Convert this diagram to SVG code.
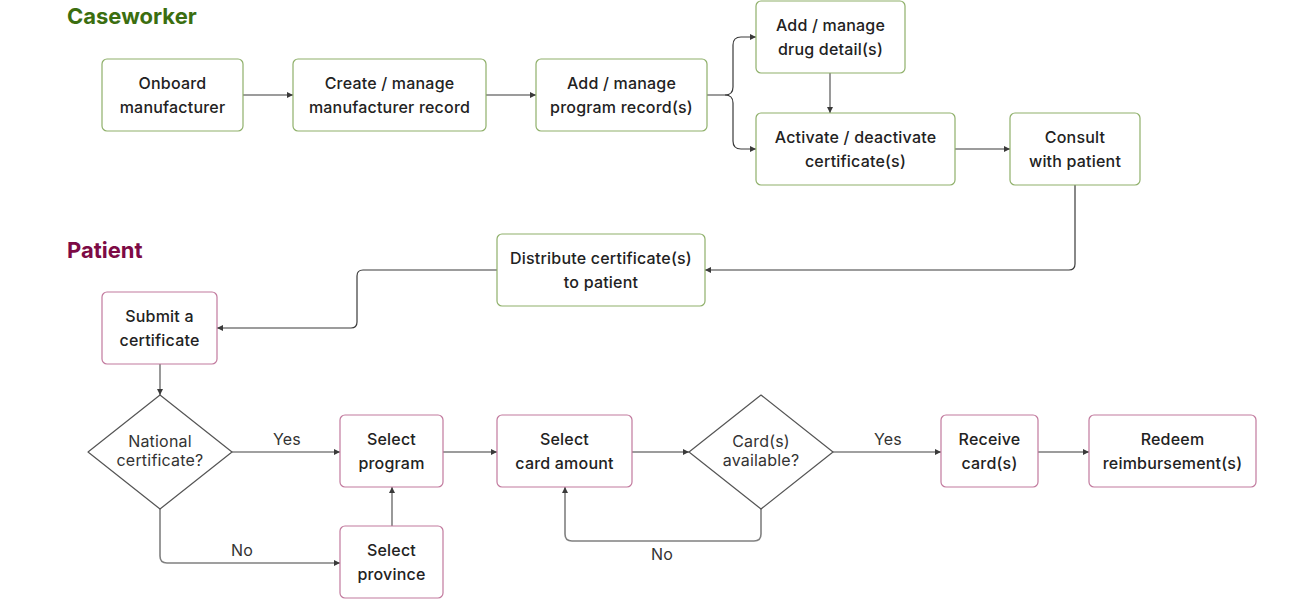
<svg xmlns="http://www.w3.org/2000/svg" width="1310" height="600" viewBox="0 0 1310 600">
<defs>
<style>
.t{font-family:Inter,"Noto Sans","Liberation Sans",sans-serif;font-size:16px;fill:#222;text-anchor:middle;font-weight:500;letter-spacing:0.2px}
.h{font-family:Inter,"Noto Sans","Liberation Sans",sans-serif;font-size:22px;font-weight:700}
.g{fill:#fff;stroke:#8fb06a;stroke-width:1.2}
.p{fill:#fff;stroke:#c27a9e;stroke-width:1.2}
.d{fill:#fff;stroke:#555;stroke-width:1.2}
.c{fill:none;stroke:#3a3a3a;stroke-width:1.2}
.c2{fill:none;stroke:#808080;stroke-width:1.6}
.l{font-family:Inter,"Noto Sans","Liberation Sans",sans-serif;font-size:16px;fill:#333;text-anchor:middle;letter-spacing:0.2px}
</style>
<marker id="a" viewBox="0 0 10 10" refX="10" refY="5" markerWidth="6" markerHeight="6" markerUnits="userSpaceOnUse" orient="auto"><path d="M0,0L10,5L0,10z" fill="#3a3a3a"/></marker>
</defs>
<text class="h" x="67" y="24" fill="#3b6e10">Caseworker</text>
<text class="h" x="67" y="258" fill="#7d0a45">Patient</text>
<g id="connectors">
<path class="c" d="M243,95H293" marker-end="url(#a)"/>
<path class="c" d="M486,95H536" marker-end="url(#a)"/>
<path class="c" d="M707,95H725Q733,95 733,87V45Q733,37 741,37H756" marker-end="url(#a)"/>
<path class="c" d="M725,95Q733,95 733,103V141Q733,149 741,149H756" marker-end="url(#a)"/>
<path class="c2" d="M830,73V113" marker-end="url(#a)"/>
<path class="c" d="M955,149H1010" marker-end="url(#a)"/>
<path class="c" d="M1075,185V264Q1075,270 1069,270H705" marker-end="url(#a)"/>
<path class="c" d="M497,270H363Q357,270 357,276V322Q357,328 351,328H217" marker-end="url(#a)"/>
<path class="c2" d="M160,364V395" marker-end="url(#a)"/>
<path class="c2" d="M232,452H340" marker-end="url(#a)"/>
<path class="c2" d="M160,509V556Q160,563 167,563H340" marker-end="url(#a)"/>
<path class="c2" d="M392,526V487" marker-end="url(#a)"/>
<path class="c" d="M443,452H497" marker-end="url(#a)"/>
<path class="c" d="M632,452H689" marker-end="url(#a)"/>
<path class="c2" d="M833,452H941" marker-end="url(#a)"/>
<path class="c2" d="M761,509V534Q761,541 754,541H572Q565,541 565,534V487" marker-end="url(#a)"/>
<path class="c" d="M1038,452H1089" marker-end="url(#a)"/>
<text class="l" x="287" y="445">Yes</text>
<text class="l" x="242" y="556">No</text>
<text class="l" x="888" y="445">Yes</text>
<text class="l" x="662" y="560">No</text>
</g>
<g id="onboard"><rect class="g" x="102" y="59" width="141" height="72" rx="5"/><text class="t" x="172.5" y="89">Onboard</text><text class="t" x="172.5" y="113">manufacturer</text></g>
<g id="create"><rect class="g" x="293" y="59" width="193" height="72" rx="5"/><text class="t" x="389.5" y="89">Create / manage</text><text class="t" x="389.5" y="113">manufacturer record</text></g>
<g id="program-record"><rect class="g" x="536" y="59" width="171" height="72" rx="5"/><text class="t" x="621.5" y="89">Add / manage</text><text class="t" x="621.5" y="113">program record(s)</text></g>
<g id="drug"><rect class="g" x="756" y="1" width="149" height="72" rx="5"/><text class="t" x="830.5" y="31">Add / manage</text><text class="t" x="830.5" y="55">drug detail(s)</text></g>
<g id="activate"><rect class="g" x="756" y="113" width="199" height="72" rx="5"/><text class="t" x="855.5" y="143">Activate / deactivate</text><text class="t" x="855.5" y="167">certificate(s)</text></g>
<g id="consult"><rect class="g" x="1010" y="113" width="130" height="72" rx="5"/><text class="t" x="1075" y="143">Consult</text><text class="t" x="1075" y="167">with patient</text></g>
<g id="distribute"><rect class="g" x="497" y="234" width="208" height="72" rx="5"/><text class="t" x="601" y="264">Distribute certificate(s)</text><text class="t" x="601" y="288">to patient</text></g>
<g id="submit"><rect class="p" x="102" y="292" width="115" height="72" rx="5"/><text class="t" x="159.5" y="322">Submit a</text><text class="t" x="159.5" y="346">certificate</text></g>
<g id="national"><path class="d" d="M160,395L232,452L160,509L88,452Z" stroke-linejoin="round"/><text class="l" x="160" y="447">National</text><text class="l" x="160" y="466">certificate?</text></g>
<g id="select-program"><rect class="p" x="340" y="415" width="103" height="72" rx="5"/><text class="t" x="391.5" y="445">Select</text><text class="t" x="391.5" y="469">program</text></g>
<g id="select-province"><rect class="p" x="340" y="526" width="103" height="72" rx="5"/><text class="t" x="391.5" y="556">Select</text><text class="t" x="391.5" y="580">province</text></g>
<g id="card-amount"><rect class="p" x="497" y="415" width="135" height="72" rx="5"/><text class="t" x="564.5" y="445">Select</text><text class="t" x="564.5" y="469">card amount</text></g>
<g id="available"><path class="d" d="M761,395L833,452L761,509L689,452Z" stroke-linejoin="round"/><text class="l" x="761" y="447">Card(s)</text><text class="l" x="761" y="466">available?</text></g>
<g id="receive"><rect class="p" x="941" y="415" width="97" height="72" rx="5"/><text class="t" x="989.5" y="445">Receive</text><text class="t" x="989.5" y="469">card(s)</text></g>
<g id="redeem"><rect class="p" x="1089" y="415" width="167" height="72" rx="5"/><text class="t" x="1172.5" y="445">Redeem</text><text class="t" x="1172.5" y="469">reimbursement(s)</text></g>
</svg>
